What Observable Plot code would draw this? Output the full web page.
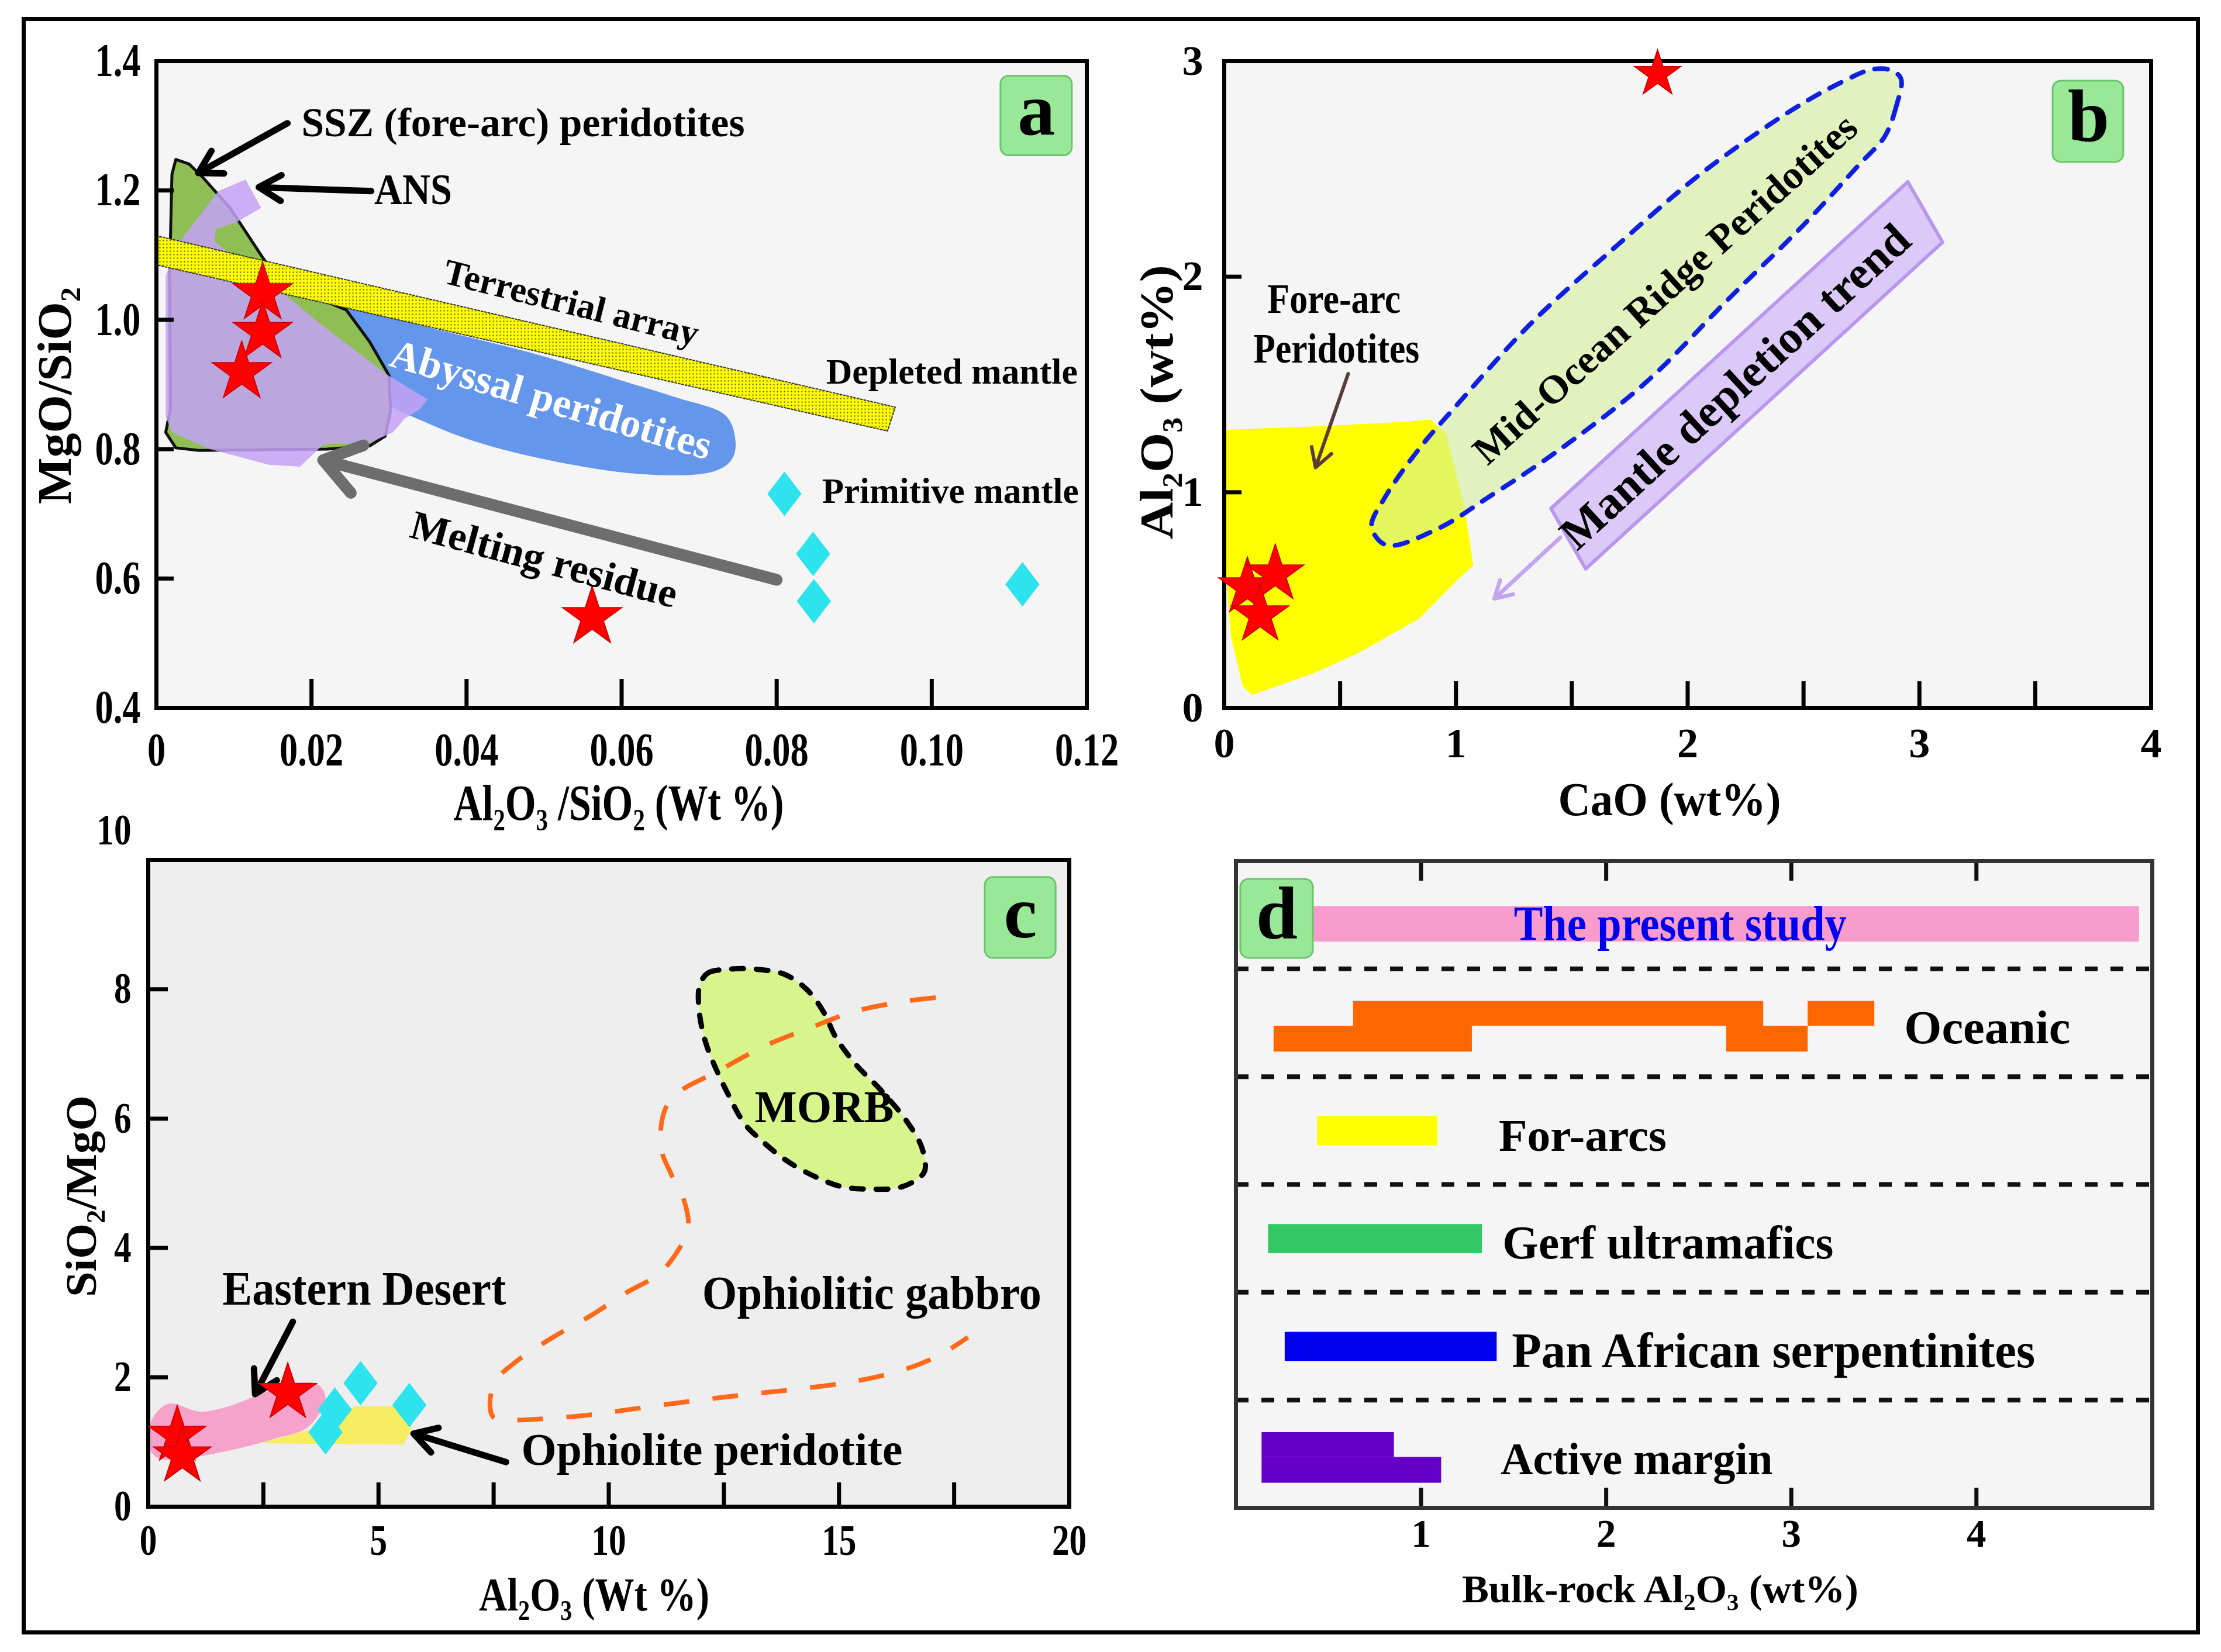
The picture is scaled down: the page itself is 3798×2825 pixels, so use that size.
<!DOCTYPE html>
<html><head><meta charset="utf-8">
<script src="https://cdn.jsdelivr.net/npm/d3@7"></script>
<script src="https://cdn.jsdelivr.net/npm/@observablehq/plot@0.6"></script>
<style>
html,body{margin:0;padding:0;background:#fff;}
#root{position:relative;width:3798px;height:2825px;background:#fff;overflow:hidden;}
#border{position:absolute;left:37px;top:29px;width:3725px;height:2766px;border:7px solid #000;box-sizing:border-box;z-index:10;pointer-events:none;}
</style></head>
<body><div id="root"></div>
<script>
// ---------------- DATA ----------------
// Panel a: Al2O3/SiO2 vs MgO/SiO2
const aXTickLabels = [0, 0.02, 0.04, 0.06, 0.08, 0.10, 0.12];
const aYTickLabels = [0.4, 0.6, 0.8, 1.0, 1.2, 1.4];
const aXInnerTicks = [0.02, 0.04, 0.06, 0.08, 0.10];
const aYInnerTicks = [0.6, 0.8, 1.0, 1.2];
const aStars = [[0.0137, 1.041], [0.0137, 0.981], [0.011, 0.919], [0.0562, 0.540]];
const aDiamonds = [[0.081, 0.731], [0.0847, 0.638], [0.0848, 0.565], [0.1117, 0.591]];
const aSSZ = [[0.0025,1.248],[0.0042,1.241],[0.006,1.22],[0.0095,1.173],[0.0135,1.10],[0.0164,1.049],[0.0205,1.035],[0.0245,1.015],[0.0275,0.966],[0.030,0.914],[0.0302,0.86],[0.0295,0.82],[0.0275,0.805],[0.022,0.80],[0.0055,0.798],[0.0025,0.802],[0.0012,0.826],[0.0018,0.862],[0.0017,1.069],[0.002,1.225]];
const aANS = [[0.0080,1.199],[0.0115,1.217],[0.0135,1.173],[0.0105,1.152],[0.0077,1.14],[0.0075,1.121],[0.0145,1.059],[0.022,0.986],[0.030,0.913],[0.035,0.877],[0.034,0.862],[0.032,0.847],[0.0305,0.826],[0.0275,0.81],[0.0215,0.807],[0.0185,0.773],[0.0145,0.776],[0.0069,0.80],[0.002,0.826],[0.0012,0.851],[0.0012,1.069],[0.003,1.121],[0.005,1.152]];
const aAbyssal = [[0.0245,1.02],[0.0345,0.99],[0.0495,0.945],[0.0595,0.908],[0.067,0.88],[0.0735,0.851],[0.0747,0.81],[0.0742,0.784],[0.072,0.766],[0.062,0.762],[0.0445,0.80],[0.035,0.84],[0.029,0.88],[0.027,0.95]];
const aTerrestrial = [[0, 1.13], [0.0953, 0.865], [0.0943, 0.828], [0, 1.085]];
const aPointers = [{x1:0.0169,y1:1.304,x2:0.0054,y2:1.227},{x1:0.0277,y1:1.199,x2:0.0132,y2:1.205}];
const aMelting = [{x1:0.080,y1:0.598,x2:0.0215,y2:0.783}];
const aNotesStart = [{text:"SSZ (fore-arc) peridotites",x:0.0187,y:1.304},{text:"ANS",x:0.0281,y:1.200}];
const aNotesMid = [{text:"Depleted mantle",x:0.1026,y:0.919},{text:"Primitive mantle",x:0.1024,y:0.735}];
const aNotesRot = [{text:"Terrestrial array",x:0.0535,y:1.026},{text:"Melting residue",x:0.050,y:0.629}];
const aNotesWhite = [{text:"Abyssal peridotites",x:0.0509,y:0.876}];
const aBox = [{x1:0.1089,x2:0.1181,y1:1.254,y2:1.377,text:"a",x:0.1135,y:1.316}];

// Panel b: CaO vs Al2O3
const bXTickLabels = [0, 1, 2, 3, 4];
const bYTickLabels = [0, 1, 2, 3];
const bXInnerTicks = [0.5, 1, 1.5, 2, 2.5, 3, 3.5];
const bYInnerTicks = [1, 2];
const bStars = [[0.10, 0.56], [0.22, 0.62], [0.155, 0.43]];
const bStarsSmall = [[1.87, 2.94]];
const bForeArc = [[0.01,1.29],[0.42,1.307],[0.76,1.326],[0.89,1.337],[0.957,1.272],[1.037,0.928],[1.075,0.662],[0.997,0.583],[0.843,0.415],[0.585,0.258],[0.379,0.157],[0.224,0.10],[0.12,0.06],[0.08,0.10],[0.028,0.336],[0.0,0.73],[0.0,1.2]];
const bMOR = [[2.92,2.92],[2.90,2.79],[2.85,2.65],[2.74,2.52],[2.50,2.24],[2.17,1.89],[1.82,1.51],[1.45,1.20],[1.13,0.97],[0.92,0.83],[0.70,0.755],[0.636,0.84],[0.69,0.97],[0.84,1.20],[1.0,1.40],[1.33,1.79],[1.69,2.14],[2.06,2.48],[2.46,2.78],[2.66,2.90],[2.79,2.96],[2.87,2.96]];
const bTrendBox = [[2.95,2.44],[3.10,2.16],[1.56,0.645],[1.41,0.925]];
const bForeArcArrow = [{x1:0.535,y1:1.55,x2:0.394,y2:1.115}];
const bTrendArrow = [{x1:1.45,y1:0.79,x2:1.166,y2:0.507}];
const bNotes = [{text:"Fore-arc",x:0.474,y:1.896},{text:"Peridotites",x:0.484,y:1.665}];
const bNotesRot = [{text:"Mid-Ocean Ridge Peridotites",x:1.903,y:1.942},{text:"Mantle depletion trend",x:2.206,y:1.489}];
const bBox = [{x1:3.576,x2:3.881,y1:2.531,y2:2.908,text:"b",x:3.73,y:2.72}];

// Panel c: Al2O3 vs SiO2/MgO
const cXTickLabels = [0, 5, 10, 15, 20];
const cYTickLabels = [0, 2, 4, 6, 8];
const cYTopLabel = [10];
const cXInnerTicks = [2.5, 5, 7.5, 10, 12.5, 15, 17.5];
const cYInnerTicks = [2, 4, 6, 8];
const cStars = [[0.63, 1.1], [0.74, 0.78], [3.03, 1.76]];
const cDiamonds = [[3.85, 1.15], [4.05, 1.5], [4.61, 1.91], [5.67, 1.57]];
const cPink = [[0.42,1.59],[1.13,1.47],[1.78,1.56],[2.43,1.74],[3.07,1.9],[3.66,1.9],[3.85,1.68],[3.47,1.23],[2.75,1.05],[1.78,0.87],[0.81,0.75],[0.22,0.75],[0.03,0.9],[0.03,1.27]];
const cYellow = [[2.43,0.98],[3.72,1.23],[4.50,1.55],[5.34,1.55],[5.73,1.23],[5.54,0.96]];
const cMORB = [[11.97,8.05],[12.15,8.25],[12.59,8.31],[13.20,8.31],[13.82,8.23],[14.31,7.99],[14.68,7.63],[14.92,7.27],[15.35,6.85],[15.91,6.44],[16.46,5.97],[16.80,5.55],[16.86,5.19],[16.65,5.04],[16.28,4.93],[15.66,4.91],[15.05,4.95],[14.43,5.12],[13.82,5.37],[13.32,5.66],[12.95,5.92],[12.59,6.38],[12.28,6.85],[12.09,7.21],[11.97,7.63]];
const cGabbro = [[17.1,7.87],[16.5,7.82],[15.35,7.66],[14.43,7.42],[13.38,7.12],[12.28,6.70],[11.6,6.45],[11.3,6.25],[11.15,5.95],[11.15,5.5],[11.35,5.15],[11.65,4.7],[11.72,4.3],[11.4,3.85],[11.05,3.58],[10.36,3.3],[9.6,2.95],[8.79,2.62],[8.0,2.25],[7.55,1.95],[7.42,1.6],[7.5,1.38],[7.9,1.34],[8.6,1.36],[9.6,1.42],[10.62,1.52],[11.78,1.63],[12.95,1.73],[14.12,1.82],[15.35,1.94],[16.46,2.13],[17.2,2.35],[17.8,2.62]];
const cPointers = [{x1:3.14,y1:2.86,x2:2.32,y2:1.74},{x1:7.77,y1:0.69,x2:5.76,y2:1.13}];
const cNotesMid = [{text:"Eastern Desert",x:4.69,y:3.36},{text:"MORB",x:14.68,y:6.17}];
const cNotesStart = [{text:"Ophiolitic gabbro",x:12.03,y:3.29},{text:"Ophiolite peridotite",x:8.10,y:0.87}];
const cBox = [{x1:18.17,x2:19.71,y1:8.48,y2:9.73,text:"c",x:18.94,y:9.1}];

// Panel d: bulk-rock Al2O3 ranges
const dTickLabels = [1, 2, 3, 4];
const dRows = ["The present study", "Oceanic", "For-arcs", "Gerf ultramafics", "Pan African serpentinites", "Active margin"];
const dSeparators = [1, 2, 3, 4, 5];
const dSegments = [
  {row:0, x1:0.35, x2:4.88, part:"study"},
  {row:1, x1:0.205, x2:1.276, part:"lower"},
  {row:1, x1:0.635, x2:2.85, part:"upper"},
  {row:1, x1:2.65, x2:3.09, part:"lower"},
  {row:1, x1:3.09, x2:3.45, part:"upper"},
  {row:2, x1:0.44, x2:1.09, part:"full"},
  {row:3, x1:0.175, x2:1.33, part:"full"},
  {row:4, x1:0.265, x2:1.41, part:"full"},
  {row:5, x1:0.14, x2:0.855, part:"upper"},
  {row:5, x1:0.14, x2:1.11, part:"lower"}
];
const dLabels = [{row:1,x:3.61},{row:2,x:1.42},{row:3,x:1.44},{row:4,x:1.49},{row:5,x:1.43}];
const dStudyLabel = [{row:0,x:2.40}];
const dBox = [{x1:0.025,x2:0.417,y1:0.168,y2:0.90,text:"d",x:0.221,y:0.534}];

// ---------------- STYLE ----------------
const FONT = "'Liberation Serif','Times New Roman',Times,serif";
const base = {fontFamily: FONT, fontWeight: "bold", background: "transparent", overflow: "visible", maxWidth: "none", position: "absolute"};
const TXT = {
  "SSZ (fore-arc) peridotites": [70, 758], "ANS": [74, 133], "Terrestrial array": [62, 447],
  "Abyssal peridotites": [70, 569], "Melting residue": [70, 469], "Depleted mantle": [62, 430],
  "Primitive mantle": [62, 439], "Al₂O₃ /SiO₂ (Wt %)": [86, 565], "MgO/SiO₂": [83, 371],
  "Fore-arc": [72, 228], "Peridotites": [72, 284], "Mid-Ocean Ridge Peridotites": [68, 857],
  "Mantle depletion trend": [78, 780], "CaO (wt%)": [80, 381], "Al₂O₃ (wt%)": [80, 469],
  "Eastern Desert": [82, 485], "Ophiolitic gabbro": [80, 580], "Ophiolite peridotite": [78, 652],
  "MORB": [78, 238], "SiO₂/MgO": [75, 345], "Al₂O₃ (Wt %)": [80, 394],
  "The present study": [84, 569], "Oceanic": [80, 284], "For-arcs": [78, 287],
  "Gerf ultramafics": [80, 566], "Pan African serpentinites": [84, 895], "Active margin": [78, 465],
  "Bulk-rock Al₂O₃ (wt%)": [68, 678]
};
const ROT = {"Terrestrial array": 14, "Melting residue": 15, "Abyssal peridotites": 16.5,
  "Mid-Ocean Ridge Peridotites": -42, "Mantle depletion trend": -42.5};
const fs = d => TXT[d.text][0];
const px = d => d[0], py = d => d[1];
const intFmt = d => String(d);
const title = {textAnchor: "middle", lineAnchor: "middle"};
const wideDiamond = {draw(ctx, size) { const h = Math.sqrt(size / Math.PI), w = h * 0.77;
  ctx.moveTo(0, -h); ctx.lineTo(w, 0); ctx.lineTo(0, h); ctx.lineTo(-w, 0); ctx.closePath(); }};
const starStyle = {x: px, y: py, symbol: "star", fill: "#ff0000", stroke: "#c40000", strokeWidth: 1.5};
const diaStyle = {x: px, y: py, symbol: wideDiamond, r: 38, fill: "#2de3ee", stroke: "none"};
const boxMarks = (data) => [
  Plot.rect(data, {x1: "x1", x2: "x2", y1: "y1", y2: "y2", fill: "#98e898", stroke: "#6cc56c", strokeWidth: 3, rx: 14}),
  Plot.text(data, {x: "x", y: "y", text: "text", fontSize: 128, dy: -8})
];
const root = document.getElementById("root");

// ---------------- PANEL A ----------------
const aFW = 1591, aFH = 1106;
const plotA = Plot.plot({
  width: 1900, height: 1400, marginLeft: 267, marginRight: 42, marginTop: 104, marginBottom: 190,
  x: {domain: [0, 0.12]}, y: {domain: [0.4, 1.4]},
  style: {...base, left: "0px", top: "0px"},
  marks: [
    Plot.frame({fill: "#f5f5f5", stroke: "none"}),
    Plot.line(aAbyssal, {x: px, y: py, curve: "catmull-rom-closed", fill: "#6496ec", stroke: "none"}),
    Plot.line(aSSZ, {x: px, y: py, curve: "linear-closed", fill: "#8fbe55", stroke: "#111", strokeWidth: 5}),
    Plot.line(aANS, {x: px, y: py, curve: "linear-closed", fill: "#c4a2f4", fillOpacity: 0.86, stroke: "none"}),
    Plot.line(aTerrestrial, {x: px, y: py, curve: "linear-closed", fill: "url(#dotpat)", stroke: "#333", strokeWidth: 2, strokeDasharray: "3,3"}),
    Plot.arrow(aMelting, {x1: "x1", y1: "y1", x2: "x2", y2: "y2", stroke: "#6d6d6d", strokeWidth: 20, headLength: 5.5, headAngle: 70}),
    Plot.arrow(aPointers, {x1: "x1", y1: "y1", x2: "x2", y2: "y2", stroke: "#000", strokeWidth: 11, headLength: 6, headAngle: 60}),
    Plot.tickX(aXInnerTicks, {x: d => d, insetTop: aFH - 49, stroke: "#000", strokeWidth: 7}),
    Plot.tickY(aYInnerTicks, {y: d => d, insetRight: aFW - 30, stroke: "#000", strokeWidth: 7}),
    Plot.frame({stroke: "#000", strokeWidth: 7}),
    Plot.dot(aStars, {...starStyle, r: 32}),
    Plot.dot(aDiamonds, diaStyle),
    Plot.text(aNotesStart, {x: "x", y: "y", text: "text", fontSize: fs, textAnchor: "start"}),
    Plot.text(aNotesMid, {x: "x", y: "y", text: "text", fontSize: fs}),
    Plot.text(aNotesRot, {x: "x", y: "y", text: "text", fontSize: fs, rotate: d => ROT[d.text]}),
    Plot.text(aNotesWhite, {x: "x", y: "y", text: "text", fontSize: fs, rotate: d => ROT[d.text], fill: "#ffffff"}),
    ...boxMarks(aBox),
    Plot.axisX(aXTickLabels, {tickSize: 0, tickPadding: 42, fontSize: 80, label: null, tickFormat: d => d === 0 ? "0" : d.toFixed(2)}),
    Plot.axisY(aYTickLabels, {tickSize: 0, tickPadding: 27, fontSize: 80, label: null, tickFormat: d => d.toFixed(1)}),
    Plot.text(["Al₂O₃ /SiO₂ (Wt %)"], {...title, frameAnchor: "bottom", dx: -5, dy: 164, fontSize: 86}),
    Plot.text(["MgO/SiO₂"], {...title, frameAnchor: "left", dx: -173, dy: 19, rotate: -90, fontSize: 83})
  ]
});
const defs = document.createElementNS("http://www.w3.org/2000/svg", "defs");
defs.innerHTML = '<pattern id="dotpat" width="6" height="6" patternUnits="userSpaceOnUse"><rect width="6" height="6" fill="#ffff00"/><circle cx="3" cy="3" r="1.2" fill="#5a5a10"/></pattern>';
plotA.insertBefore(defs, plotA.firstChild);

// ---------------- PANEL B ----------------
const bFW = 1585, bFH = 1106;
const plotB = Plot.plot({
  width: 1898, height: 1400, marginLeft: 193, marginRight: 120, marginTop: 104, marginBottom: 190,
  x: {domain: [0, 4]}, y: {domain: [0, 3]},
  style: {...base, left: "1900px", top: "0px"},
  marks: [
    Plot.frame({fill: "#f5f5f5", stroke: "none"}),
    Plot.line(bForeArc, {x: px, y: py, curve: "linear-closed", fill: "#ffff00", stroke: "none", clip: true}),
    Plot.line(bMOR, {x: px, y: py, curve: "catmull-rom-closed", fill: "#d4f09a", fillOpacity: 0.6, stroke: "#1020e0", strokeWidth: 8, strokeDasharray: "22,20", strokeLinecap: "round"}),
    Plot.line(bTrendBox, {x: px, y: py, curve: "linear-closed", fill: "#d8c4f6", fillOpacity: 0.92, stroke: "#b997ee", strokeWidth: 6}),
    Plot.arrow(bForeArcArrow, {x1: "x1", y1: "y1", x2: "x2", y2: "y2", stroke: "#5b3b3b", strokeWidth: 6, headLength: 9, headAngle: 60}),
    Plot.arrow(bTrendArrow, {x1: "x1", y1: "y1", x2: "x2", y2: "y2", stroke: "#c2a6f0", strokeWidth: 7, headLength: 7, headAngle: 60}),
    Plot.tickX(bXInnerTicks, {x: d => d, insetTop: bFH - 45, stroke: "#000", strokeWidth: 7}),
    Plot.tickY(bYInnerTicks, {y: d => d, insetRight: bFW - 30, stroke: "#000", strokeWidth: 7}),
    Plot.frame({stroke: "#000", strokeWidth: 7}),
    Plot.dot(bStars, {...starStyle, r: 31}),
    Plot.dot(bStarsSmall, {...starStyle, r: 25}),
    Plot.text(bNotes, {x: "x", y: "y", text: "text", fontSize: fs}),
    Plot.text(bNotesRot, {x: "x", y: "y", text: "text", fontSize: fs, rotate: d => ROT[d.text]}),
    ...boxMarks(bBox),
    Plot.axisX(bXTickLabels, {tickSize: 0, tickPadding: 33, fontSize: 72, label: null, tickFormat: intFmt}),
    Plot.axisY(bYTickLabels, {tickSize: 0, tickPadding: 36, fontSize: 72, label: null, tickFormat: intFmt}),
    Plot.text(["CaO (wt%)"], {...title, frameAnchor: "bottom", dx: -31, dy: 158, fontSize: 80}),
    Plot.text(["Al₂O₃ (wt%)"], {...title, frameAnchor: "left", dx: -114, dy: 30, rotate: -90, fontSize: 80})
  ]
});

// ---------------- PANEL C ----------------
const cFW = 1575, cFH = 1106;
const plotC = Plot.plot({
  width: 1900, height: 1425, marginLeft: 253, marginRight: 72, marginTop: 70, marginBottom: 249,
  x: {domain: [0, 20]}, y: {domain: [0, 10]},
  style: {...base, left: "0px", top: "1400px"},
  marks: [
    Plot.frame({fill: "#eeeeee", stroke: "none"}),
    Plot.line(cPink, {x: px, y: py, curve: "catmull-rom-closed", fill: "#f5a3cb", stroke: "none"}),
    Plot.line(cYellow, {x: px, y: py, curve: "linear-closed", fill: "#f6ee60", stroke: "none"}),
    Plot.line(cMORB, {x: px, y: py, curve: "catmull-rom-closed", fill: "#d7f58c", stroke: "#000", strokeWidth: 9, strokeDasharray: "20,22"}),
    Plot.line(cGabbro, {x: px, y: py, curve: "catmull-rom", stroke: "#ff6a1a", strokeWidth: 8, strokeDasharray: "44,40", strokeLinecap: "butt"}),
    Plot.arrow(cPointers, {x1: "x1", y1: "y1", x2: "x2", y2: "y2", stroke: "#000", strokeWidth: 11, headLength: 6, headAngle: 60}),
    Plot.tickX(cXInnerTicks, {x: d => d, insetTop: cFH - 41, stroke: "#000", strokeWidth: 7}),
    Plot.tickY(cYInnerTicks, {y: d => d, insetRight: cFW - 34, stroke: "#000", strokeWidth: 7}),
    Plot.frame({stroke: "#000", strokeWidth: 7}),
    Plot.dot(cStars, {...starStyle, r: 31}),
    Plot.dot(cDiamonds, diaStyle),
    Plot.text(cNotesMid, {x: "x", y: "y", text: "text", fontSize: fs}),
    Plot.text(cNotesStart, {x: "x", y: "y", text: "text", fontSize: fs, textAnchor: "start"}),
    ...boxMarks(cBox),
    Plot.axisX(cXTickLabels, {tickSize: 0, tickPadding: 30, fontSize: 74, label: null, tickFormat: intFmt}),
    Plot.axisY(cYTickLabels, {tickSize: 0, tickPadding: 29, fontSize: 74, label: null, tickFormat: intFmt}),
    Plot.axisY(cYTopLabel, {tickSize: 0, tickPadding: 29, fontSize: 74, label: null, dy: -50, tickFormat: intFmt}),
    Plot.text(["Al₂O₃ (Wt %)"], {...title, frameAnchor: "bottom", dx: -25, dy: 152, fontSize: 80}),
    Plot.text(["SiO₂/MgO"], {...title, frameAnchor: "left", dx: -114, dy: 22, rotate: -90, fontSize: 75})
  ]
});

// ---------------- PANEL D ----------------
const dFH = 1106;
const rowColor = ["#f89ccd", "#ff6600", "#ffff00", "#33c864", "#0000ee", "#6400c8"];
const partBand = {study: [0.42, 0.75], full: [0.37, 0.64], upper: [0.30, 0.53], lower: [0.53, 0.77]};
const plotD = Plot.plot({
  width: 1898, height: 1425, marginLeft: 213, marginRight: 118, marginTop: 72, marginBottom: 247,
  x: {domain: [0, 4.95]}, y: {domain: [0, 6], reverse: true, axis: null}, color: {type: "identity"},
  style: {...base, left: "1900px", top: "1400px"},
  marks: [
    Plot.frame({fill: "#f5f5f5", stroke: "none"}),
    Plot.ruleY(dSeparators, {stroke: "#111", strokeWidth: 8, strokeDasharray: "22,22"}),
    Plot.rect(dSegments, {x1: "x1", x2: "x2", y1: d => d.row + partBand[d.part][0], y2: d => d.row + partBand[d.part][1], fill: d => rowColor[d.row]}),
    Plot.tickX(dTickLabels, {x: d => d, insetTop: dFH - 34, stroke: "#111", strokeWidth: 7}),
    Plot.tickX(dTickLabels, {x: d => d, insetBottom: dFH - 34, stroke: "#111", strokeWidth: 7}),
    Plot.frame({stroke: "#333", strokeWidth: 7}),
    ...boxMarks(dBox),
    Plot.text(dStudyLabel, {x: "x", y: d => d.row + 0.59, text: d => dRows[d.row], fontSize: d => TXT[dRows[d.row]][0], fill: "#0000ee"}),
    Plot.text(dLabels, {x: "x", y: d => d.row + 0.55, text: d => dRows[d.row], fontSize: d => TXT[dRows[d.row]][0], textAnchor: "start"}),
    Plot.axisX(dTickLabels, {tickSize: 0, tickPadding: 19, fontSize: 67, label: null, tickFormat: intFmt}),
    Plot.text(["Bulk-rock Al₂O₃ (wt%)"], {...title, frameAnchor: "bottom", dx: -58, dy: 140, fontSize: 68})
  ]
});

for (const p of [plotA, plotB, plotC, plotD]) root.appendChild(p);
const border = document.createElement("div"); border.id = "border"; root.appendChild(border);

// condense text widths to match the reference typography
for (const p of [plotA, plotB, plotC, plotD]) {
  p.querySelectorAll("text").forEach(t => {
    const s = TXT[t.textContent];
    if (s) { t.setAttribute("textLength", s[1]); t.setAttribute("lengthAdjust", "spacingAndGlyphs"); }
  });
}
function squeezeTicks(p, k) {
  p.querySelectorAll('g[aria-label="x-axis tick label"] text, g[aria-label="y-axis tick label"] text').forEach(t => {
    const L = t.getComputedTextLength();
    if (L > 0) { t.setAttribute("textLength", (L * k).toFixed(1)); t.setAttribute("lengthAdjust", "spacingAndGlyphs"); }
  });
}
squeezeTicks(plotA, 0.78);
squeezeTicks(plotC, 0.8);
</script>
</body></html>
